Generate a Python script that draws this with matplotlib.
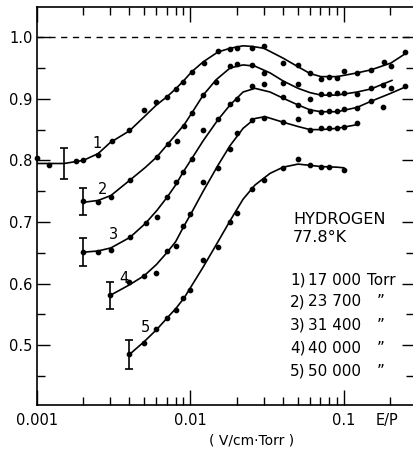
import matplotlib
matplotlib.use("Agg")
import matplotlib.pyplot as plt
from matplotlib.ticker import FixedLocator, NullFormatter, FixedFormatter

# ---------------- data ----------------
# measured points, curve 1..5
pts1_x = [0.001, 0.0012, 0.0018, 0.002, 0.0025, 0.0031, 0.0040, 0.0050, 0.0060, 0.0070, 0.0080,
          0.0090, 0.0102, 0.0122, 0.0151, 0.0181, 0.0200, 0.0252, 0.0301, 0.0401, 0.0502, 0.0601,
          0.0708, 0.080, 0.090, 0.100, 0.1216, 0.150, 0.182, 0.202, 0.250]
pts1_y = [0.804, 0.792, 0.799, 0.800, 0.808, 0.831, 0.850, 0.882, 0.895, 0.903, 0.916,
          0.928, 0.943, 0.958, 0.977, 0.981, 0.982, 0.982, 0.985, 0.958, 0.955, 0.942,
          0.932, 0.935, 0.933, 0.945, 0.942, 0.946, 0.959, 0.953, 0.976]

pts2_x = [0.002, 0.0025, 0.00303, 0.00403, 0.00605, 0.00714, 0.0082, 0.0091, 0.0102, 0.0121,
          0.0147, 0.0181, 0.0200, 0.0252, 0.0301, 0.0401, 0.0502, 0.0601, 0.0708, 0.080, 0.090,
          0.100, 0.1216, 0.150, 0.180, 0.202]
pts2_y = [0.734, 0.732, 0.740, 0.769, 0.805, 0.826, 0.832, 0.856, 0.877, 0.906,
          0.927, 0.953, 0.956, 0.955, 0.942, 0.925, 0.924, 0.899, 0.907, 0.907, 0.909,
          0.909, 0.907, 0.917, 0.922, 0.917]

pts3_x = [0.002, 0.0025, 0.00303, 0.00403, 0.0051, 0.00605, 0.00703, 0.00805, 0.0089, 0.0102,
          0.0121, 0.0151, 0.0181, 0.0200, 0.0252, 0.0301, 0.0401, 0.0502, 0.0601, 0.0708, 0.080,
          0.090, 0.100, 0.1216, 0.150, 0.180, 0.250]
pts3_y = [0.651, 0.651, 0.654, 0.675, 0.698, 0.708, 0.740, 0.765, 0.781, 0.802,
          0.849, 0.867, 0.891, 0.899, 0.920, 0.924, 0.903, 0.890, 0.881, 0.878, 0.881,
          0.881, 0.883, 0.885, 0.896, 0.886, 0.920]

pts4_x = [0.003, 0.0040, 0.0050, 0.0060, 0.0070, 0.0080, 0.0090, 0.0100, 0.0121, 0.0151, 0.0181,
          0.0200, 0.0252, 0.0301, 0.0401, 0.0502, 0.0601, 0.0708, 0.080, 0.090, 0.100, 0.1216]
pts4_y = [0.581, 0.602, 0.613, 0.618, 0.653, 0.661, 0.694, 0.713, 0.765, 0.787, 0.818,
          0.845, 0.865, 0.869, 0.862, 0.867, 0.849, 0.852, 0.852, 0.852, 0.854, 0.860]

pts5_x = [0.004, 0.0050, 0.0060, 0.0070, 0.0080, 0.0090, 0.0100, 0.0121, 0.0151, 0.0181, 0.0200,
          0.0252, 0.0301, 0.0401, 0.0502, 0.0601, 0.0708, 0.080, 0.100]
pts5_y = [0.485, 0.503, 0.526, 0.544, 0.557, 0.576, 0.589, 0.639, 0.660, 0.700, 0.715,
          0.753, 0.769, 0.787, 0.803, 0.792, 0.789, 0.789, 0.785]

# hand-drawn fitted curves (nodes)
fit1_x = [0.001, 0.0015, 0.002, 0.0025, 0.0030, 0.0040, 0.0050, 0.0060, 0.0070, 0.0080, 0.0090,
          0.0102, 0.0121, 0.0151, 0.0181, 0.0220, 0.0252, 0.0301, 0.0401, 0.0502, 0.0601, 0.0708,
          0.0900, 0.1216, 0.150, 0.202, 0.250]
fit1_y = [0.795, 0.795, 0.800, 0.811, 0.829, 0.848, 0.871, 0.890, 0.903, 0.916, 0.929,
          0.944, 0.960, 0.976, 0.982, 0.986, 0.985, 0.982, 0.966, 0.952, 0.941, 0.936,
          0.936, 0.942, 0.947, 0.958, 0.973]

fit2_x = [0.002, 0.0025, 0.00303, 0.00403, 0.0051, 0.00605, 0.00714, 0.0091, 0.0102, 0.0121,
          0.0147, 0.0181, 0.0220, 0.0263, 0.0330, 0.0401, 0.0502, 0.0601, 0.0708, 0.0900, 0.1216,
          0.150, 0.206]
fit2_y = [0.732, 0.735, 0.743, 0.768, 0.789, 0.806, 0.827, 0.858, 0.877, 0.906,
          0.931, 0.950, 0.955, 0.953, 0.942, 0.929, 0.917, 0.910, 0.906, 0.906, 0.911,
          0.916, 0.930]

fit3_x = [0.002, 0.0025, 0.00303, 0.00403, 0.0051, 0.00605, 0.00703, 0.00805, 0.0089, 0.0102,
          0.0121, 0.0151, 0.0181, 0.0220, 0.0263, 0.0330, 0.0401, 0.0502, 0.0601, 0.0708, 0.0900,
          0.1216, 0.150, 0.202, 0.250]
fit3_y = [0.651, 0.653, 0.658, 0.675, 0.698, 0.719, 0.740, 0.761, 0.780, 0.803,
          0.832, 0.866, 0.890, 0.911, 0.917, 0.911, 0.901, 0.890, 0.882, 0.879, 0.879,
          0.886, 0.896, 0.909, 0.919]

fit4_x = [0.003, 0.0040, 0.0050, 0.0060, 0.0070, 0.0080, 0.0090, 0.0102, 0.0121, 0.0151, 0.0181,
          0.0220, 0.0263, 0.0306, 0.0401, 0.0502, 0.0601, 0.0708, 0.0900, 0.1216]
fit4_y = [0.581, 0.598, 0.613, 0.631, 0.650, 0.668, 0.692, 0.716, 0.750, 0.792, 0.824,
          0.852, 0.868, 0.871, 0.862, 0.855, 0.850, 0.850, 0.852, 0.858]

fit5_x = [0.004, 0.0050, 0.00605, 0.00703, 0.00805, 0.0091, 0.0102, 0.0121, 0.0151, 0.0181,
          0.0220, 0.0263, 0.0330, 0.0401, 0.0502, 0.0601, 0.0708, 0.0900, 0.100]
fit5_y = [0.485, 0.506, 0.526, 0.544, 0.560, 0.577, 0.597, 0.627, 0.668, 0.702,
          0.737, 0.760, 0.779, 0.789, 0.794, 0.792, 0.790, 0.789, 0.788]

# error bars (x, y, half-length)
err_x = [0.0015, 0.002, 0.002, 0.003, 0.004]
err_y = [0.795, 0.734, 0.651, 0.581, 0.485]
err_h = [0.025, 0.022, 0.023, 0.022, 0.023]

# curve number labels
num_labels = ["1", "2", "3", "4", "5"]
num_x = [0.00246, 0.00269, 0.00317, 0.00369, 0.00512]
num_y = [0.828, 0.752, 0.679, 0.609, 0.529]

# legend content
gas_name = "HYDROGEN"
temperature = "77.8°K"
pressures = ["17 000", "23 700", "31 400", "40 000", "50 000"]
units = ["Torr", "\u201d", "\u201d", "\u201d", "\u201d"]

x_ticks_major = [0.001, 0.01, 0.1]
x_tick_labels = ["0.001", "0.01", "0.1"]
x_ticks_minor = [0.002, 0.003, 0.004, 0.005, 0.006, 0.007, 0.008, 0.009,
                 0.02, 0.03, 0.04, 0.05, 0.06, 0.07, 0.08, 0.09, 0.2]
y_ticks_major = [0.5, 0.6, 0.7, 0.8, 0.9, 1.0]
y_tick_labels = ["0.5", "0.6", "0.7", "0.8", "0.9", "1.0"]
y_ticks_minor = [0.45, 0.55, 0.65, 0.75, 0.85, 0.95]

# ---------------- figure ----------------
plt.rcParams['font.family'] = ['DejaVu Sans']
fig = plt.figure(figsize=(4.14, 4.51), dpi=100)
ax = fig.add_axes([37 / 414, 46 / 451, 377 / 414, 398 / 451])
ax.set_xscale('log')
ax.set_xlim(0.001, 0.2858)
ax.set_ylim(0.403, 1.049)

ax.axhline(1.0, color='black', lw=1.0, linestyle=(0, (4.5, 4)))

fits = [(fit1_x, fit1_y), (fit2_x, fit2_y), (fit3_x, fit3_y), (fit4_x, fit4_y), (fit5_x, fit5_y)]
pts = [(pts1_x, pts1_y), (pts2_x, pts2_y), (pts3_x, pts3_y), (pts4_x, pts4_y), (pts5_x, pts5_y)]
for (fx, fy) in fits:
    ax.plot(fx, fy, color='black', lw=1.2, solid_capstyle='round', solid_joinstyle='round')
for (px, py) in pts:
    ax.plot(px, py, 'o', color='black', ms=3.1, clip_on=False)

ax.errorbar(err_x, err_y, yerr=err_h, fmt='none', ecolor='black',
            elinewidth=1.2, capsize=3, capthick=1.2)

for t, x, y in zip(num_labels, num_x, num_y):
    ax.text(x, y, t, fontsize=10.5, ha='center', va='center')

# legend block
ax.text(0.679, 0.465, gas_name, transform=ax.transAxes, fontsize=11.5, ha='left', va='center')
ax.text(0.679, 0.422, temperature, transform=ax.transAxes, fontsize=11.5, ha='left', va='center')
rows_y = [0.314, 0.259, 0.201, 0.143, 0.085]
for i, (p, u, ry) in enumerate(zip(pressures, units, rows_y)):
    ax.text(0.671, ry, f"{i + 1})", transform=ax.transAxes, fontsize=11, ha='left', va='center')
    ax.text(0.859, ry, p, transform=ax.transAxes, fontsize=11, ha='right', va='center')
    ax.text(0.912, ry, u, transform=ax.transAxes, fontsize=11, ha='center', va='center')

# ticks
ax.xaxis.set_major_locator(FixedLocator(x_ticks_major))
ax.xaxis.set_major_formatter(FixedFormatter(x_tick_labels))
ax.xaxis.set_minor_locator(FixedLocator(x_ticks_minor))
ax.xaxis.set_minor_formatter(NullFormatter())
ax.yaxis.set_major_locator(FixedLocator(y_ticks_major))
ax.yaxis.set_major_formatter(FixedFormatter(y_tick_labels))
ax.yaxis.set_minor_locator(FixedLocator(y_ticks_minor))
ax.tick_params(axis='both', which='both', direction='in', color='black', width=1.0)
ax.tick_params(axis='x', which='major', length=11, top=True, bottom=True, labelsize=10.5, pad=6)
ax.tick_params(axis='x', which='minor', length=6, top=True, bottom=True)
ax.tick_params(axis='y', which='major', length=9, left=True, right=True, labelsize=10.5, pad=3)
ax.tick_params(axis='y', which='minor', length=6, left=True, right=True)
for s in ['left', 'bottom', 'top']:
    ax.spines[s].set_linewidth(1.2)
ax.spines['right'].set_visible(False)

fig.text(387 / 414, 1 - 420 / 451, "E/P", fontsize=10.5, ha='center', va='center')
fig.text(252 / 414, 1 - 441 / 451, "( V/cm\u00b7Torr )", fontsize=10, ha='center', va='center')

fig.savefig("out.png", dpi=100, facecolor='white')
